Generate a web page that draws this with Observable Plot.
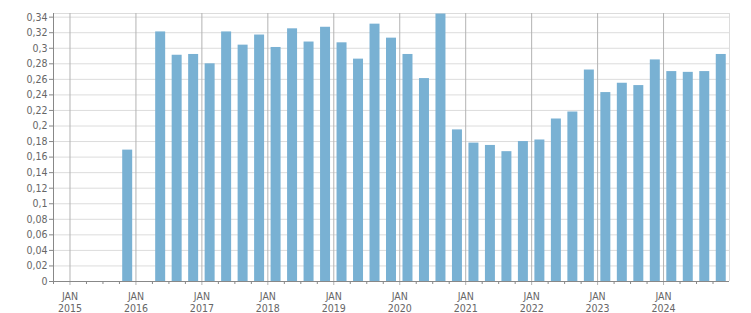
<!DOCTYPE html>
<html>
<head>
<meta charset="utf-8">
<script src="https://cdn.jsdelivr.net/npm/d3@7"></script>
<script src="https://cdn.jsdelivr.net/npm/@observablehq/plot@0.6"></script>
<style>
  html, body { margin: 0; padding: 0; background: #fff; }
  #chart svg { display: block; }
</style>
</head>
<body>
<div id="chart"></div>
<script>
// Quarterly periods and values (null = no data)
const periods = [
  "2015-Q4","2016-Q1","2016-Q2","2016-Q3","2016-Q4",
  "2017-Q1","2017-Q2","2017-Q3","2017-Q4",
  "2018-Q1","2018-Q2","2018-Q3","2018-Q4",
  "2019-Q1","2019-Q2","2019-Q3","2019-Q4",
  "2020-Q1","2020-Q2","2020-Q3","2020-Q4",
  "2021-Q1","2021-Q2","2021-Q3","2021-Q4",
  "2022-Q1","2022-Q2","2022-Q3","2022-Q4",
  "2023-Q1","2023-Q2","2023-Q3","2023-Q4",
  "2024-Q1","2024-Q2","2024-Q3","2024-Q4"
];
const values = [
  0.169, null, 0.321, 0.291, 0.292,
  0.280, 0.321, 0.304, 0.317,
  0.301, 0.325, 0.308, 0.327,
  0.307, 0.286, 0.331, 0.313,
  0.292, 0.261, 0.344, 0.195,
  0.178, 0.175, 0.167, 0.180,
  0.182, 0.209, 0.218, 0.272,
  0.243, 0.255, 0.252, 0.285,
  0.270, 0.269, 0.270, 0.292
];
const yearTicks = [2015, 2016, 2017, 2018, 2019, 2020, 2021, 2022, 2023, 2024];
const monthLabel = "JAN";
const yTicks = [0, 0.02, 0.04, 0.06, 0.08, 0.1, 0.12, 0.14, 0.16, 0.18, 0.2, 0.22, 0.24, 0.26, 0.28, 0.3, 0.32, 0.34];
const xDomain = [2014.75, 2025];
const yDomain = [0, 0.3447];

const data = periods.map((p, i) => {
  const [y, q] = p.split("-Q");
  const t = +y + (+q - 1) / 4;
  return {t, t2: t + 0.25, v: values[i]};
}).filter(d => d.v != null);

const quarterTicks = d3.range(xDomain[0], xDomain[1] + 0.001, 0.25).filter(t => Math.abs(t - Math.round(t)) > 0.01);

const fmt = d => String(+d.toFixed(2)).replace(".", ",");

const chart = Plot.plot({
  width: 751,
  height: 313,
  marginLeft: 53,
  marginRight: 22,
  marginTop: 13,
  marginBottom: 32,
  style: {fontFamily: "'DejaVu Sans Condensed', 'DejaVu Sans', sans-serif", fontStretch: "condensed", fontSize: "10.5px", background: "#fff", overflow: "visible"},
  x: {type: "linear", domain: xDomain},
  y: {domain: yDomain},
  marks: [
    Plot.gridY({ticks: yTicks.filter(d => d > 0), stroke: "#dcdcdc", strokeOpacity: 1}),
    Plot.ruleY([yDomain[1]], {stroke: "#dcdcdc"}),
    Plot.ruleX([xDomain[1]], {stroke: "#dcdcdc"}),
    Plot.axisX({ticks: yearTicks, tickSize: 4, tickFormat: () => "", stroke: "#b3b3b3"}),
    Plot.gridX({ticks: yearTicks, stroke: "#b3b3b3", strokeOpacity: 1}),
    Plot.rectY(data, {x1: "t", x2: "t2", y: "v", fill: "#79b1d3", insetLeft: 3.25, insetRight: 3.25}),
    Plot.axisX({ticks: quarterTicks, tickSize: 3, tickFormat: () => "", stroke: "#888"}),
    Plot.ruleY([0], {stroke: "#888"}),
    Plot.ruleX([xDomain[0]], {stroke: "#888"}),
    Plot.axisY({ticks: yTicks, tickFormat: fmt, tickSize: 4, tickPadding: 2, stroke: "#888", fill: "#666", label: null}),
    Plot.text(yearTicks, {x: d => d, text: d => `${monthLabel}\n${d}`, frameAnchor: "bottom", lineAnchor: "top", dy: 9.5, lineHeight: 1.17, fill: "#666", textAnchor: "middle"})
  ]
});
document.getElementById("chart").appendChild(chart);
</script>
</body>
</html>
